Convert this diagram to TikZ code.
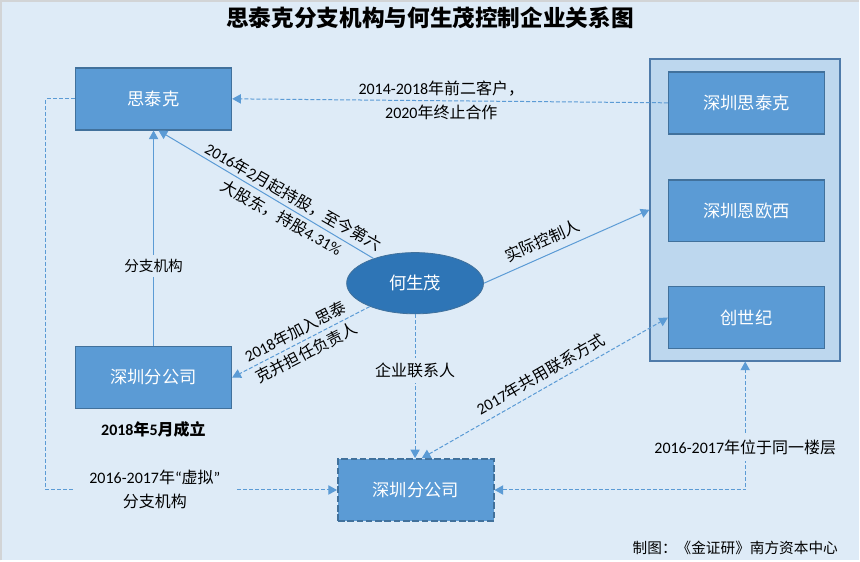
\documentclass[tikz,border=0pt]{standalone}
\usepackage{fontspec}
\setmainfont{Noto Sans CJK SC}
\newfontfamily\lat{Carlito}
\usetikzlibrary{arrows.meta,shapes.geometric,calc}
\definecolor{bgc}{HTML}{DEEBF7}
\definecolor{framec}{HTML}{D2D4D6}
\definecolor{boxfill}{HTML}{5B9BD5}
\definecolor{boxline}{HTML}{41719C}
\definecolor{grpfill}{HTML}{BDD7EE}
\definecolor{grpline}{HTML}{4F7BAA}
\definecolor{ellfill}{HTML}{2E75B6}
\definecolor{linec}{HTML}{5B9BD5}
\tikzset{
  box/.style={rectangle, fill=boxfill, draw=boxline, line width=1.1pt,
    minimum width=117pt, minimum height=46.5pt, inner sep=0pt,
    text=white, font=\fontsize{13}{15}\selectfont},
  grp/.style={rectangle, fill=grpfill, draw=grpline, line width=1.4pt,
    minimum width=142.5pt, minimum height=226.5pt, inner sep=0pt},
  ell/.style={ellipse, fill=ellfill, draw=boxline, line width=0.6pt,
    minimum width=102.75pt, minimum height=46pt, inner sep=0pt,
    text=white, font=\fontsize{13}{15}\selectfont},
  conn/.style={draw=linec, line width=0.75pt},
  dconn/.style={conn, dash pattern=on 3pt off 1.5pt},
  lab/.style={text=black, font=\fontsize{12}{18}\selectfont, align=center, inner sep=1.5pt},
  smalllab/.style={text=black, font=\fontsize{11}{13}\selectfont, align=center, inner sep=1.5pt},
}
\begin{document}
\begin{tikzpicture}[x=0.75pt,y=-0.75pt, >={Triangle[length=6.5pt,width=7pt]}]
\fill[bgc] (0,0) rectangle (860,561);
\draw[framec, line width=1.4pt] (0.9,561) -- (0.9,0.9) -- (860,0.9);
\useasboundingbox (0,0) rectangle (860,561);

% title
\node[font=\fontsize{17}{20}\selectfont\bfseries] (title) at (430.5,18) {思泰克分支机构与何生茂控制企业关系图};

% boxes
\node[box] (stk) at (153.7,98.9) {思泰克};
\node[box] (sz1) at (153.7,377.9) {深圳分公司};
\node[grp] (group) at (746,210) {};
\node[box] (szstk) at (747.3,102.9) {深圳思泰克};
\node[box] (enox) at (747.3,211) {深圳恩欧西};
\node[box] (csj) at (747.3,318) {创世纪};
\node[box, dash pattern=on 5pt off 2pt, line width=1.3pt] (sz2) at (416.2,490.5) {深圳分公司};
\node[ell] (he) at (415.5,283.5) {何生茂};

\coordinate (lc) at (46,0);

% connectors
\draw[dconn,->] (szstk.west) -- (stk.east)
  node[lab, pos=0.52] {{\lat 2014-2018}年前二客户，\\{\lat 2020}年终止合作};

\draw[conn,->] (sz1.north) -- (stk.south)
  node[smalllab, pos=0.37, fill=bgc, inner ysep=3pt] {分支机构};

\draw[conn,->] (he) -- ($(stk.south)+(5,0)$)
  node[lab, pos=0.4, rotate=-29.8] {{\lat 2016}年{\lat 2}月起持股，至今第六\\大股东，持股{\lat 4.31\%}};

\draw[dconn,->] (he) -- (sz1.east)
  node[lab, pos=0.5, sloped] {{\lat 2018}年加入思泰\\克并担任负责人};

\draw[conn,->] (he.east) -- (group.west)
  node[lab, pos=0.39, sloped, above=4pt] {实际控制人};

\draw[dconn,->] (he.south) -- (he.south |- sz2.north)
  node[lab, pos=0.39, fill=bgc, inner ysep=4pt] {企业联系人};

\draw[dconn,<->] ($(sz2.north)+(6,0)$) -- (csj.west)
  node[lab, pos=0.51, sloped, above=3pt] {{\lat 2017}年共用联系方式};

\draw[dconn,<->] (sz2.east) -| (group.south)
  node[lab, pos=0.667, fill=bgc, inner ysep=5pt] {{\lat 2016-2017}年位于同一楼层};

\draw[dconn,->] (stk.west) -- (stk.west -| lc) |- (sz2.west);
\node[lab, fill=bgc, inner xsep=12pt] (vlab) at (155,489.5) {{\lat 2016-2017}年{\lat “}虚拟{\lat ”}\\分支机构};

% notes
\node[font=\fontsize{12}{14}\selectfont\bfseries] (est) at (153.5,430) {{\lat 2018}年{\lat 5}月成立};
\node[smalllab, anchor=east] (foot) at (841,548) {制图：《金证研》南方资本中心};
\end{tikzpicture}
\end{document}
